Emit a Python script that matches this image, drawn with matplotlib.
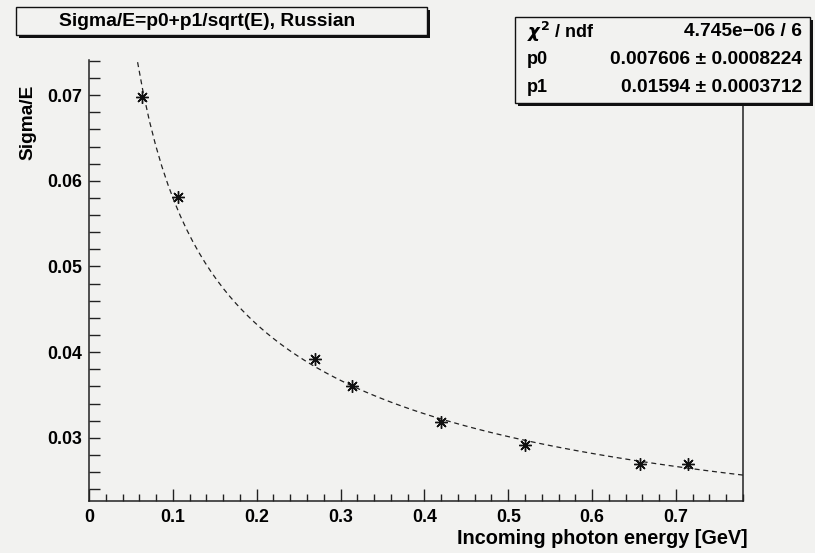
import numpy as np
import matplotlib.pyplot as plt
from matplotlib.patches import Rectangle

plt.rcParams['font.family'] = ['Liberation Sans', 'DejaVu Sans']
plt.rcParams['font.weight'] = 'bold'
plt.rcParams['mathtext.fontset'] = 'dejavusans'

# measured points
energy = [0.063, 0.106, 0.269, 0.314, 0.420, 0.520, 0.657, 0.714]
sigma_e = [0.0698, 0.0581, 0.0392, 0.0360, 0.0318, 0.0292, 0.0270, 0.0269]

# fit result (Sigma/E = p0 + p1/sqrt(E))
p0, p0_err = 0.007606, 0.0008224
p1, p1_err = 0.01594, 0.0003712
chi2_txt = "4.745e\u221206 / 6"
fit_range = (0.05, 0.78)

title = "Sigma/E=p0+p1/sqrt(E), Russian"
x_ticks = [0, 0.1, 0.2, 0.3, 0.4, 0.5, 0.6, 0.7]
x_tick_labels = ["0", "0.1", "0.2", "0.3", "0.4", "0.5", "0.6", "0.7"]
y_ticks = [0.03, 0.04, 0.05, 0.06, 0.07]
y_tick_labels = ["0.03", "0.04", "0.05", "0.06", "0.07"]

W, H = 815, 553
BG = '#f2f2f0'
fig = plt.figure(figsize=(W / 100, H / 100), dpi=100, facecolor=BG)


def fx(px):
    return px / W


def fy(py):
    return 1 - py / H


ax = fig.add_axes([fx(89), fy(501), fx(743) - fx(89), fy(60) - fy(501)])
ax.set_facecolor(BG)
ax.set_xlim(0, 0.78)
ax.set_ylim(0.02263, 0.0741)

# fit curve, drawn over its range
e = np.linspace(fit_range[0], fit_range[1], 100)
ax.plot(e, p0 + p1 / np.sqrt(e), color='#222222', lw=0.9, ls=(0, (4, 3)))
ax.plot(energy, sigma_e, ls='none', marker=(8, 2, 0), ms=9,
        mec='#111111', mew=1.0)

ax.set_xticks(x_ticks)
ax.set_xticklabels(x_tick_labels)
ax.set_yticks(y_ticks)
ax.set_yticklabels(y_tick_labels)
ax.set_xticks(np.arange(0, 0.781, 0.02), minor=True)
ax.set_yticks(np.arange(0.024, 0.0741, 0.002), minor=True)
ax.tick_params(axis='both', which='both', direction='in', color='#222222',
               labelsize=12.8, width=1.0)
ax.tick_params(axis='x', which='major', length=8.6, pad=6)
ax.tick_params(axis='x', which='minor', length=5)
ax.tick_params(axis='y', which='major', length=8, pad=5)
ax.tick_params(axis='y', which='minor', length=8)
for side in ['left', 'bottom', 'right']:
    ax.spines[side].set_color('#222222')
    ax.spines[side].set_linewidth(1.1)
ax.spines['top'].set_visible(False)

fig.text(fx(748), fy(538), "Incoming photon energy [GeV]", ha='right',
         va='center', fontsize=14.3, fontweight='bold')
fig.text(fx(28), fy(122), "Sigma/E", rotation=90, ha='center', va='center',
         fontsize=13.8, fontweight='bold')


def box(x0, y0, x1, y1, sh=3):
    fig.patches.append(Rectangle((fx(x0 + sh), fy(y1 + sh)), fx(x1 - x0),
                                 fy(y0) - fy(y1), transform=fig.transFigure,
                                 facecolor='#111111', edgecolor='none', zorder=5))
    fig.patches.append(Rectangle((fx(x0), fy(y1)), fx(x1 - x0),
                                 fy(y0) - fy(y1), transform=fig.transFigure,
                                 facecolor=BG, edgecolor='#111111', lw=1.0,
                                 zorder=6))


# title box
box(16, 7, 427, 35)
fig.text(fx(207), fy(21), title, ha='center', va='center', fontsize=13.9,
         fontweight='bold', zorder=7)

# stats box
box(515, 17, 810, 103)
rows = [(r"$\chi^2$ / ndf", chi2_txt),
        ("p0", f"{p0} \u00b1 {p0_err}"),
        ("p1", f"{p1} \u00b1 {p1_err}")]
for i, (name, val) in enumerate(rows):
    yy = fy(32 + i * 27.5)
    fig.text(fx(527), yy, name, ha='left', va='center', fontsize=13,
             fontweight='bold', zorder=7)
    fig.text(fx(802), yy, val, ha='right', va='center', fontsize=13.8,
             fontweight='bold', zorder=7)

fig.savefig('out.png', dpi=100, facecolor=BG)
